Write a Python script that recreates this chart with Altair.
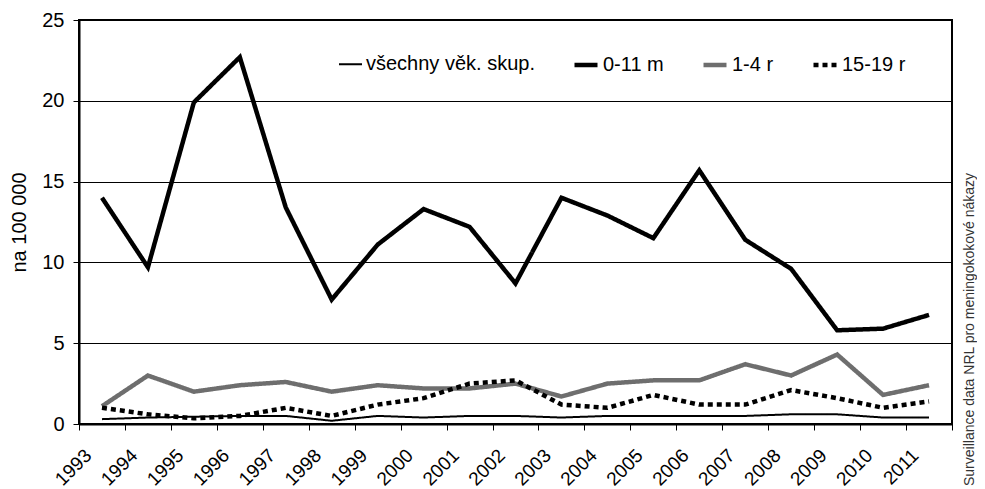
import altair as alt
import pandas as pd

years = [str(y) for y in range(1993, 2012)]
series_names = ["všechny věk. skup.", "0-11 m", "1-4 r", "15-19 r"]

all_ages = [0.3, 0.4, 0.45, 0.5, 0.5, 0.2, 0.5, 0.4, 0.5, 0.5, 0.4, 0.5, 0.5, 0.5, 0.5, 0.6, 0.6, 0.4, 0.4]
infants = [14.0, 9.7, 19.9, 22.7, 13.4, 7.7, 11.1, 13.3, 12.2, 8.7, 14.0, 12.9, 11.5, 15.7, 11.4, 9.6, 5.8, 5.9, 6.75]
toddlers = [1.1, 3.0, 2.0, 2.4, 2.6, 2.0, 2.4, 2.2, 2.2, 2.5, 1.7, 2.5, 2.7, 2.7, 3.7, 3.0, 4.3, 1.8, 2.4]
teens = [1.0, 0.6, 0.35, 0.5, 1.0, 0.5, 1.2, 1.6, 2.5, 2.7, 1.2, 1.0, 1.8, 1.2, 1.2, 2.1, 1.6, 1.0, 1.4]

y_ticks = [0, 5, 10, 15, 20, 25]
source_note = "Surveillance data NRL pro meningokokové nákazy"

rows = []
for name, vals in zip(series_names, [all_ages, infants, toddlers, teens]):
    for yr, v in zip(years, vals):
        rows.append({"year": yr, "value": v, "series": name})
df = pd.DataFrame(rows)

FONT = "Liberation Sans"

legend = alt.Legend(
    title=None,
    orient="none",
    legendX=259,
    legendY=31,
    direction="horizontal",
    symbolType="stroke",
    symbolSize=529,
    labelFontSize=20,
    labelFont=FONT,
    labelColor="black",
    labelLimit=400,
    labelOffset=3,
    columnPadding=30,
    padding=0,
)

lines = alt.Chart(df).mark_line().encode(
    x=alt.X(
        "year:O",
        sort=years,
        bandPosition=0.5,
        scale=alt.Scale(type="band", paddingInner=0, paddingOuter=0),
        axis=alt.Axis(
            title=None,
            labelAngle=315,
            labelAlign="right",
            labelBaseline="middle",
            labelOffset=-14,
            labelPadding=22,
            labelFontSize=19,
            tickBand="extent",
            tickSize=6,
            grid=False,
            domainWidth=2,
        ),
    ),
    y=alt.Y(
        "value:Q",
        scale=alt.Scale(domain=[0, 25], nice=False),
        axis=alt.Axis(
            values=y_ticks,
            title="na 100 000",
            titleFontWeight="normal",
            titleFontSize=20,
            titlePadding=12,
            labelFontSize=20,
            labelPadding=9,
            tickSize=6,
            grid=True,
            gridColor="black",
            gridWidth=1,
            domainWidth=2,
        ),
    ),
    color=alt.Color(
        "series:N",
        sort=series_names,
        scale=alt.Scale(domain=series_names, range=["#000000", "#000000", "#6e6e6e", "#000000"]),
        legend=legend,
    ),
    strokeWidth=alt.StrokeWidth(
        "series:N",
        sort=series_names,
        scale=alt.Scale(type="ordinal", domain=series_names, range=[2, 4.5, 4.5, 4.5]),
        legend=legend,
    ),
    strokeDash=alt.StrokeDash(
        "series:N",
        sort=series_names,
        scale=alt.Scale(domain=series_names, range=[[1, 0], [1, 0], [1, 0], [5, 4]]),
        legend=legend,
    ),
)

note = alt.Chart(pd.DataFrame({"t": [source_note]})).mark_text(
    angle=270, align="left", baseline="middle", fontSize=14, font=FONT, color="#333333"
).encode(text="t:N", x=alt.value(891), y=alt.value(466))

chart = alt.layer(lines, note).properties(
    width=873,
    height=404,
    padding={"left": 71, "top": 12, "right": 25, "bottom": 65},
    autosize=alt.AutoSizeParams(type="none"),
).configure_view(
    stroke="black", strokeWidth=2
).configure_axis(
    labelFont=FONT, titleFont=FONT, labelColor="black", titleColor="black",
    tickColor="black", domainColor="black",
)

chart.save("out.html", embed_options={"renderer": "svg", "actions": False})
